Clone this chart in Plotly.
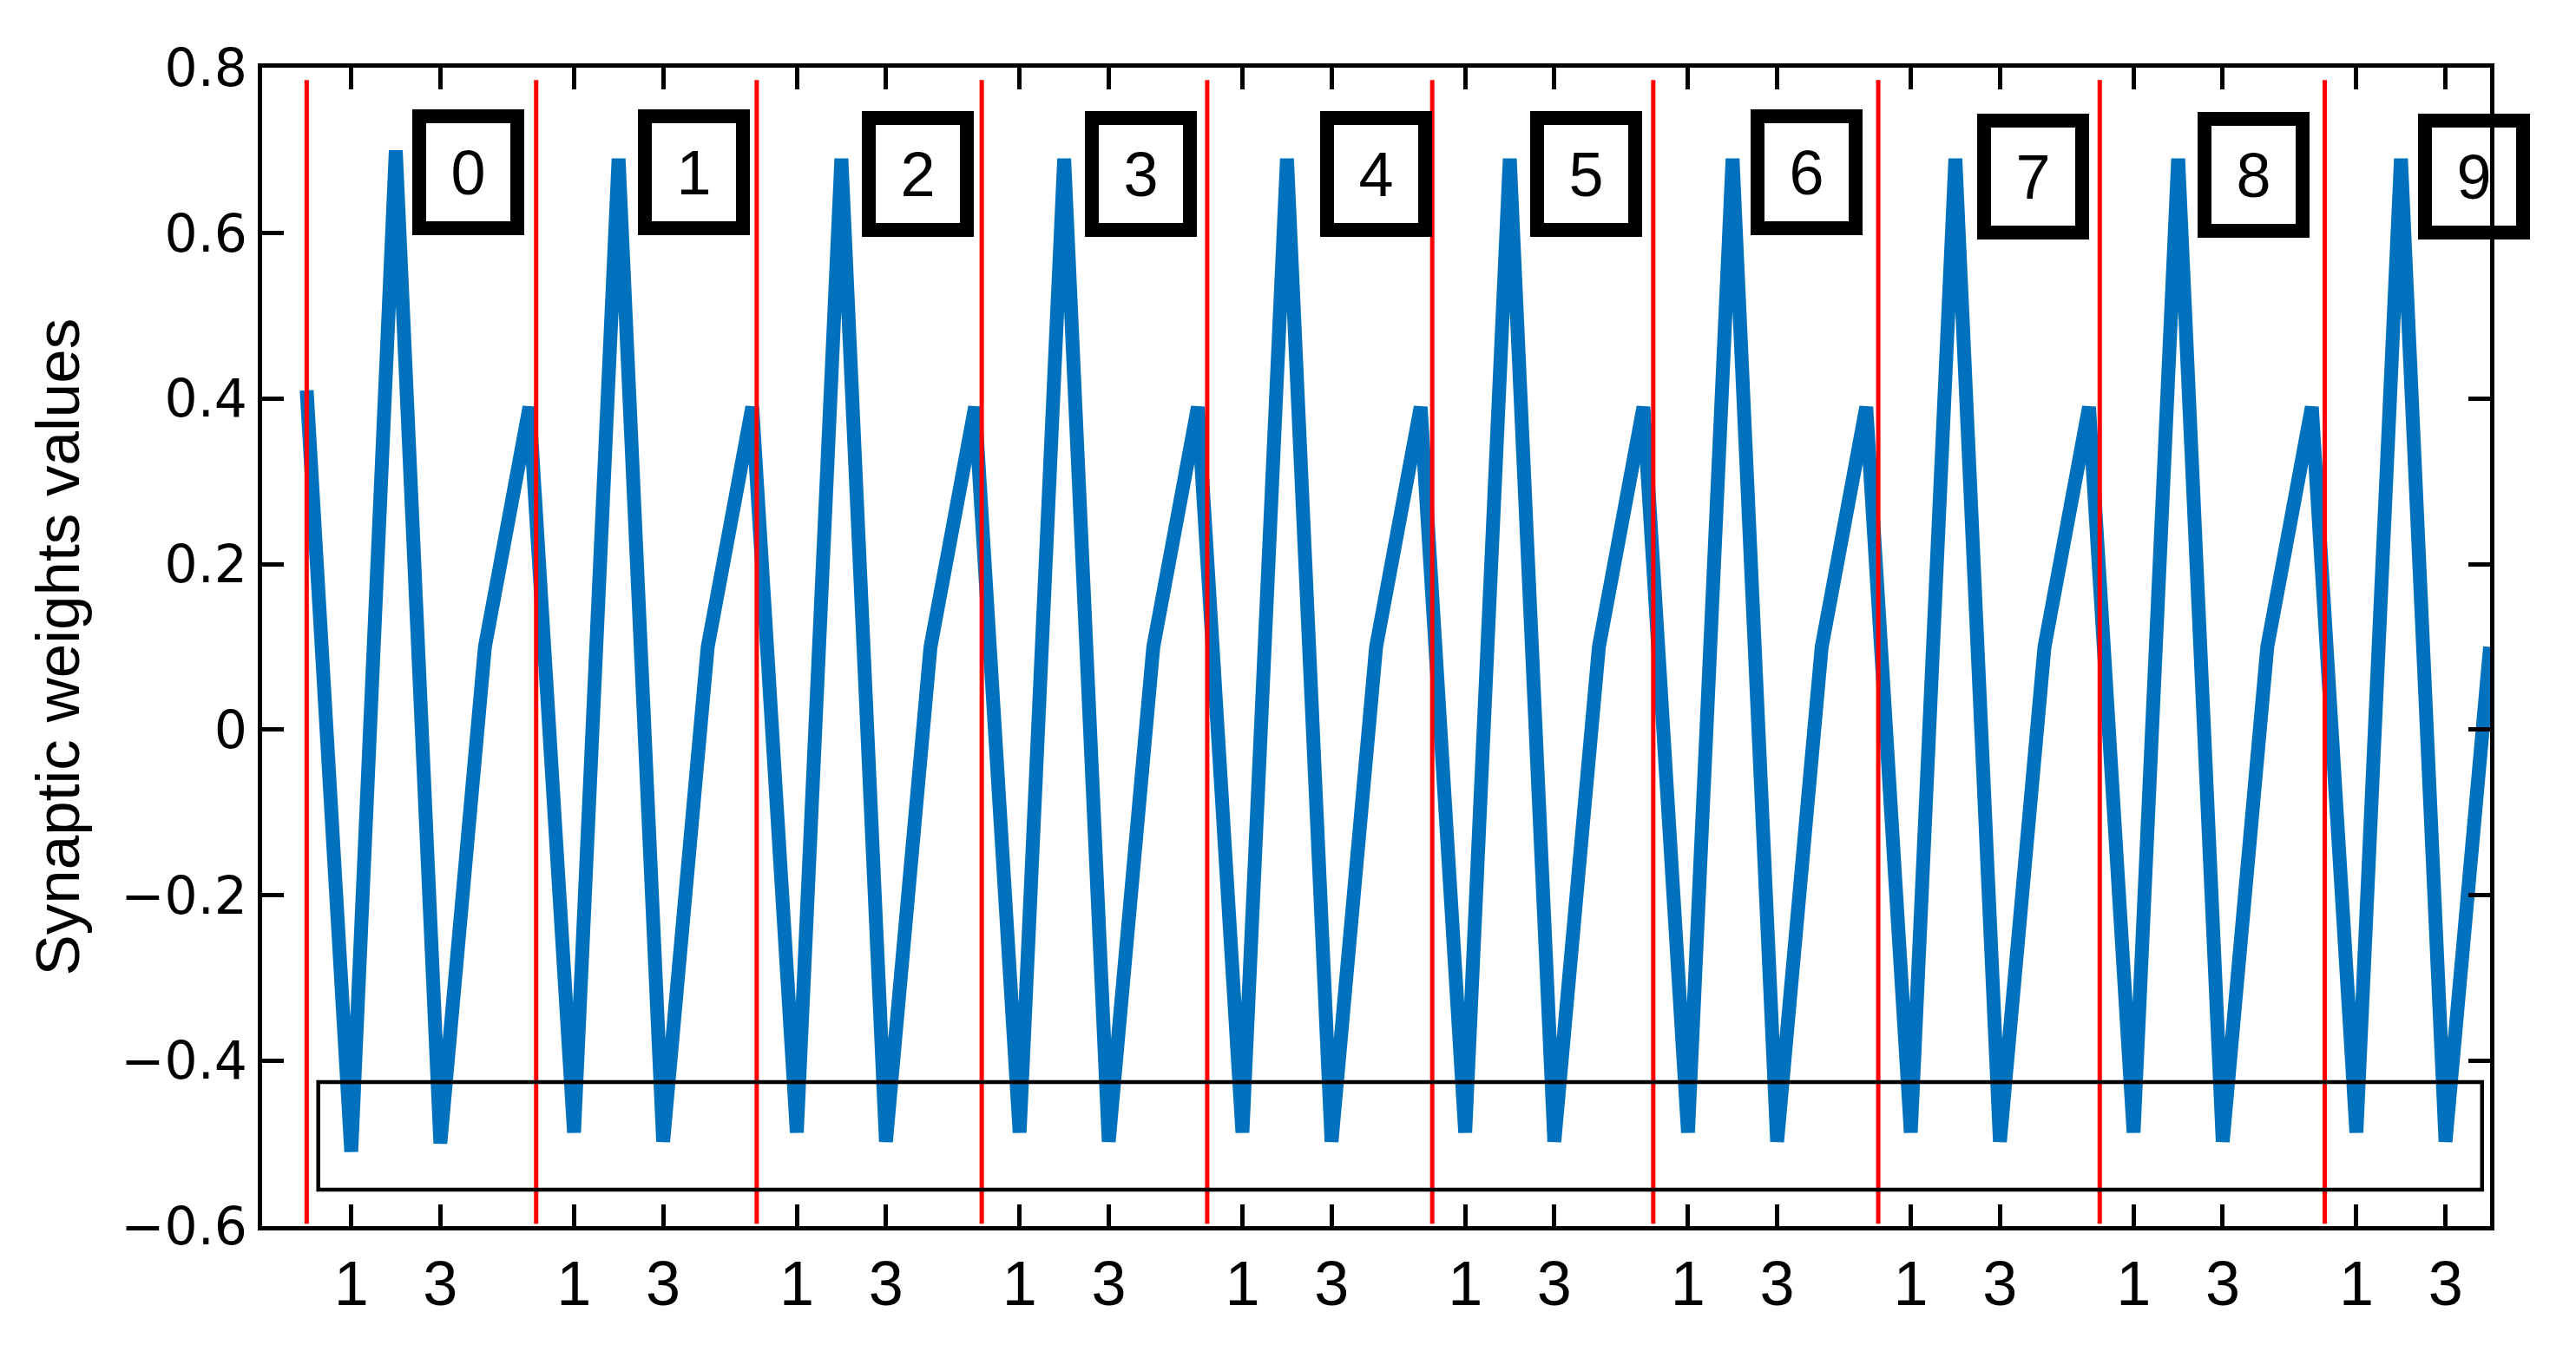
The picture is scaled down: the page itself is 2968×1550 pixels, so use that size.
import plotly.graph_objects as go

# synaptic weight of each input, 10 digit groups of 5 inputs
weights = [
    0.41, -0.51, 0.70, -0.50, 0.10,
    0.39, -0.487, 0.69, -0.498, 0.10,
    0.39, -0.487, 0.69, -0.498, 0.10,
    0.39, -0.487, 0.69, -0.498, 0.10,
    0.39, -0.487, 0.69, -0.498, 0.10,
    0.39, -0.487, 0.69, -0.498, 0.10,
    0.39, -0.487, 0.69, -0.498, 0.10,
    0.39, -0.487, 0.69, -0.498, 0.10,
    0.39, -0.487, 0.69, -0.498, 0.10,
    0.39, -0.487, 0.69, -0.498, 0.10,
]
inputs = list(range(len(weights)))

# red separators between the digit groups
separators = [0, 5.15, 10.1, 15.15, 20.21, 25.26, 30.22, 35.27, 40.24, 45.29]
sep_low, sep_high = -0.597, 0.785

# boxed digit labels
digits = ['0', '1', '2', '3', '4', '5', '6', '7', '8', '9']
digit_x = [3.62, 8.69, 13.72, 18.73, 24.0, 28.72, 33.66, 38.75, 43.69, 48.64]
digit_y = [0.674, 0.674, 0.672, 0.672, 0.672, 0.672, 0.674, 0.668, 0.670, 0.668]

# x ticks: inputs 1 and 3 of every group
x_tickvals = [1, 3, 6, 8, 11, 13, 16, 18, 21, 23, 26, 28, 31, 33, 36, 38, 41, 43, 46, 48]
x_ticktext = ['1', '3'] * 10
y_tickvals = [-0.6, -0.4, -0.2, 0, 0.2, 0.4, 0.6, 0.8]

# highlighted band of minima
band_x = [0.26, 48.82]
band_y = [-0.556, -0.426]

BLUE = '#0072BD'
RED = '#FF0000'
FONT = 'Liberation Sans, Arial, sans-serif'
WIDE_FONT = 'DejaVu Sans, sans-serif'

fig = go.Figure()

fig.add_trace(go.Scatter(
    x=inputs, y=weights, mode='lines',
    line=dict(color=BLUE, width=16),
    showlegend=False, hoverinfo='skip'
))

# separator lines, one segment per group
sx, sy = [], []
for s in separators:
    sx += [s, s, None]
    sy += [sep_low, sep_high, None]
fig.add_trace(go.Scatter(
    x=sx, y=sy, mode='lines',
    line=dict(color=RED, width=5),
    showlegend=False, hoverinfo='skip'
))

fig.add_shape(
    type='rect', xref='x', yref='y',
    x0=band_x[0], x1=band_x[1], y0=band_y[0], y1=band_y[1],
    line=dict(color='black', width=4.5), layer='above'
)

for d, dx, dy in zip(digits, digit_x, digit_y):
    fig.add_annotation(
        x=dx, y=dy, xref='x', yref='y', text=d, showarrow=False,
        font=dict(family=FONT, size=72, color='black'),
        width=97, height=113, borderwidth=16, borderpad=0,
        bordercolor='black', bgcolor='rgba(0,0,0,0)'
    )

# y axis title
fig.add_annotation(
    x=-0.0919, y=0.5, xref='paper', yref='paper',
    text='Synaptic weights values', textangle=-90, showarrow=False,
    xanchor='center', yanchor='middle',
    font=dict(family=FONT, size=71, color='black')
)

# page body adds 8px, so the figure is 8px smaller than the window
fig.update_layout(
    width=2960, height=1542,
    margin=dict(l=294, r=99, t=70, b=137),
    plot_bgcolor='white', paper_bgcolor='white',
    font=dict(family=FONT, size=70, color='black'),
)
fig.update_xaxes(
    range=[-1, 49], tickvals=x_tickvals, ticktext=x_ticktext,
    ticks='inside', ticklen=25, tickwidth=5, tickcolor='black',
    showline=True, linewidth=5, linecolor='black', mirror='ticks',
    showgrid=False, zeroline=False,
    tickfont=dict(family=FONT, size=72, color='black')
)
fig.update_yaxes(
    range=[-0.6, 0.8], tickvals=y_tickvals,
    ticks='inside', ticklen=25, tickwidth=5, tickcolor='black',
    showline=True, linewidth=5, linecolor='black', mirror='ticks',
    showgrid=False, zeroline=False,
    tickfont=dict(family=WIDE_FONT, size=60, color='black')
)

fig.write_html('out.html')
